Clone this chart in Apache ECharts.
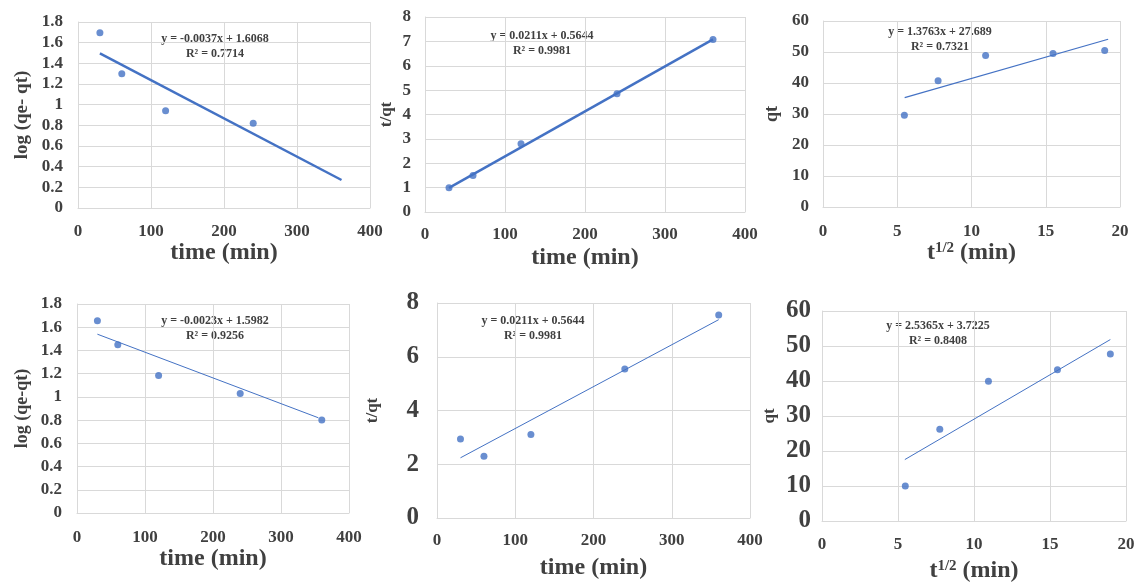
<!DOCTYPE html>
<html><head><meta charset="utf-8">
<script src="https://cdn.jsdelivr.net/npm/echarts@6/dist/echarts.min.js"></script>
<style>html,body{margin:0;padding:0;background:#fff}#c{width:1136px;height:583px}</style>
</head><body><div id="c"></div>
<script>
// ---- data ----
const timeMin = [30, 60, 120, 240, 360];
const sqrtTime = [5.48, 7.75, 10.95, 15.49, 18.97];

const p1Y = [1.695, 1.30, 0.94, 0.82];          // log(qe-qt), first run (4 points)
const p1X = [30, 60, 120, 240];
const p1Trend = [[30, 1.496], [361, 0.271]];
const p1Eq = ['y = -0.0037x + 1.6068', 'R² = 0.7714'];

const p2Y = [1.0, 1.5, 2.8, 4.85, 7.08];        // t/qt, first run
const p2Trend = [[30, 0.99], [360, 7.08]];
const p2Eq = ['y = 0.0211x + 0.5644', 'R² = 0.9981'];

const p3Y = [29.6, 40.7, 48.9, 49.5, 50.5];     // qt vs t^1/2, first run
const p3Trend = [[5.5, 35.26], [19.2, 54.11]];
const p3Eq = ['y = 1.3763x + 27.689', 'R² = 0.7321'];

const p4Y = [1.655, 1.45, 1.185, 1.03, 0.80];   // log(qe-qt), second run
const p4Trend = [[30, 1.54], [355, 0.82]];
const p4Eq = ['y = -0.0023x + 1.5982', 'R² = 0.9256'];

const p5Y = [2.94, 2.30, 3.11, 5.54, 7.55];     // t/qt, second run
const p5Trend = [[30, 2.24], [360, 7.38]];
const p5Eq = ['y = 0.0211x + 0.5644', 'R² = 0.9981'];

const p6Y = [10.0, 26.2, 39.9, 43.2, 47.7];     // qt vs t^1/2, second run
const p6Trend = [[5.45, 17.55], [18.97, 51.84]];
const p6Eq = ['y = 2.5365x + 3.7225', 'R² = 0.8408'];

const zip = (xs, ys) => xs.map((x, i) => [x, ys[i]]);

// ---- styling ----
const FONT = '"Liberation Serif", "Times New Roman", serif';
const TXT = '#404040';
const BLUE = '#4472C4';
const GRIDC = '#d9d9d9';

const panels = [
  {grid:{left:78, top:22, width:292, height:186}, x:{min:0,max:400,interval:100}, y:{min:0,max:1.8,interval:0.2},
   xName:'time (min)', yName:'log (qe- qt)', xGap:28, yGap:46, xl:17, xm:15, yl:17, yn:19, ym:15, lw:2.5,
   pts:zip(p1X,p1Y), trend:p1Trend, eq:p1Eq, eqPos:[215,38]},
  {grid:{left:425, top:17, width:320, height:195}, x:{min:0,max:400,interval:100}, y:{min:0,max:8,interval:1},
   xName:'time (min)', yName:'t/qt', xGap:34, yGap:30, xl:17, xm:14, yl:17, yn:17, ym:14, lw:2.5,
   pts:zip(timeMin,p2Y), trend:p2Trend, eq:p2Eq, eqPos:[542,35]},
  {grid:{left:823, top:21, width:297, height:186}, x:{min:0,max:20,interval:5}, y:{min:0,max:60,interval:10},
   xName:'sq', yName:'qt', xGap:26, yGap:42, xl:17, xm:16, yl:17, yn:18, ym:14, lw:1.2,
   pts:zip(sqrtTime,p3Y), trend:p3Trend, eq:p3Eq, eqPos:[940,31]},
  {grid:{left:77, top:304, width:272, height:209}, x:{min:0,max:400,interval:100}, y:{min:0,max:1.8,interval:0.2},
   xName:'time (min)', yName:'log (qe-qt)', xGap:33, yGap:46, xl:17, xm:16, yl:17, yn:18, ym:15, lw:1,
   pts:zip(timeMin,p4Y), trend:p4Trend, eq:p4Eq, eqPos:[215,320]},
  {grid:{left:437, top:303, width:313, height:215}, x:{min:0,max:400,interval:100}, y:{min:0,max:8,interval:2},
   xName:'time (min)', yName:'t/qt', xGap:38, yGap:56, xl:17, xm:14, yl:25, yn:17, ym:18, lw:1,
   pts:zip(timeMin,p5Y), trend:p5Trend, eq:p5Eq, eqPos:[533,320]},
  {grid:{left:822, top:311, width:304, height:210}, x:{min:0,max:20,interval:5}, y:{min:0,max:60,interval:10},
   xName:'sq', yName:'qt', xGap:38, yGap:44, xl:17, xm:15, yl:25, yn:17, ym:11, lw:1,
   pts:zip(sqrtTime,p6Y), trend:p6Trend, eq:p6Eq, eqPos:[938,325]}
];

const grid = [], xAxis = [], yAxis = [], series = [], graphic = [];
panels.forEach((p, i) => {
  grid.push(Object.assign({containLabel:false, outerBoundsMode:'none'}, p.grid));
  const sq = p.xName === 'sq';
  xAxis.push({
    type:'value', gridIndex:i, min:p.x.min, max:p.x.max, interval:p.x.interval,
    name: sq ? '{b|t}{s|1/2}{b| (min)}' : p.xName,
    nameLocation:'middle', nameGap:p.xGap,
    nameTextStyle:{fontFamily:FONT, fontWeight:'bold', fontSize:24, color:TXT,
      rich: {b:{fontFamily:FONT, fontWeight:'bold', fontSize:24, color:TXT},
             s:{fontFamily:FONT, fontWeight:'bold', fontSize:15, color:TXT, verticalAlign:'top', padding:[0,0,8,0]}}},
    axisLine:{show:true, lineStyle:{color:GRIDC}}, axisTick:{show:false},
    axisLabel:{fontFamily:FONT, fontWeight:'bold', fontSize:p.xl, color:TXT, margin:p.xm},
    splitLine:{show:true, lineStyle:{color:GRIDC}}
  });
  yAxis.push({
    type:'value', gridIndex:i, min:p.y.min, max:p.y.max, interval:p.y.interval,
    name:p.yName, nameLocation:'middle', nameGap:p.yGap,
    nameTextStyle:{fontFamily:FONT, fontWeight:'bold', fontSize:p.yn, color:TXT},
    axisLine:{show:true, lineStyle:{color:GRIDC}}, axisTick:{show:false},
    axisLabel:{fontFamily:FONT, fontWeight:'bold', fontSize:p.yl, color:TXT, margin:p.ym},
    splitLine:{show:true, lineStyle:{color:GRIDC}}
  });
  series.push({type:'line', xAxisIndex:i, yAxisIndex:i, data:p.trend, showSymbol:false, symbol:'none',
    lineStyle:{color:BLUE, width:p.lw}, silent:true, animation:false, z:2});
  series.push({type:'scatter', xAxisIndex:i, yAxisIndex:i, data:p.pts, symbol:'circle', symbolSize:7,
    itemStyle:{color:BLUE}, animation:false, z:3});
  graphic.push({type:'text', x:p.eqPos[0], y:p.eqPos[1] - 7,
    style:{text:p.eq[0] + '\n' + p.eq[1], font:'bold 12px ' + FONT, fill:TXT, align:'center', verticalAlign:'top', lineHeight:15}});
});

const chart = echarts.init(document.getElementById('c'), null, {renderer:'canvas'});
chart.setOption({backgroundColor:'#fff', animation:false, grid, xAxis, yAxis, series, graphic});
</script></body></html>
